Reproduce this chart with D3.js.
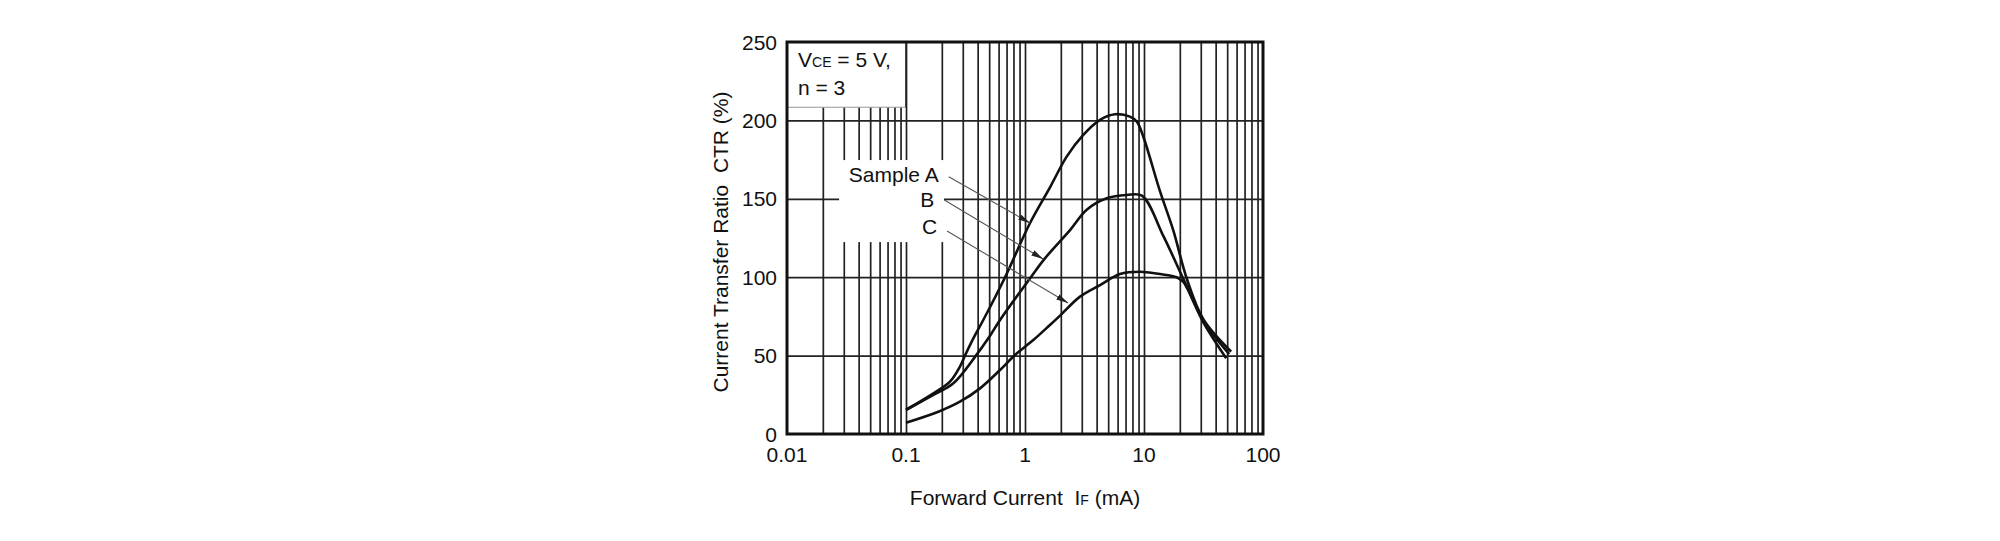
<!DOCTYPE html>
<html>
<head>
<meta charset="utf-8">
<script src="https://cdn.jsdelivr.net/npm/d3@7"></script>
<style>
body { margin: 0; background: #fff; }
text { font-family: "Liberation Sans", Arial, sans-serif; fill: #111; }
</style>
</head>
<body>
<script>
// ---------- data ----------
var xTickLabels = [0.01, 0.1, 1, 10, 100];
var yTickLabels = [0, 50, 100, 150, 200, 250];

// [IF (mA), CTR (%)]
var sampleA = [[0.1,15.5],[0.17,26],[0.234,33.4],[0.284,43],[0.313,50],[0.368,61],[0.446,72.7],
    [0.68,100],[1.10,134.4],[1.64,158],[2.24,176.9],[3.09,190.7],[4.27,200.3],[5.7,203.9],
    [7.62,202.4],[8.7,199.2],[9.87,189.6],[13.6,155],[17.6,130],[22.9,99],[31.6,73],[54,52.5]];
var sampleB = [[0.1,15.3],[0.17,25],[0.25,32.3],[0.387,50],[0.492,61],[0.617,72.7],[1.12,100],
    [1.47,112],[2.39,130],[3.3,143],[4.86,150.3],[7.16,152.4],[9.6,152],[14.6,126],[22,97],
    [31.6,72],[52,51]];
var sampleC = [[0.1,7.2],[0.187,14.2],[0.284,20.6],[0.419,29.1],[0.617,40.8],[0.824,50.4],[1.175,59.9],
    [1.62,69.5],[1.97,75.5],[2.9,87.6],[4.27,95],[6.28,102],[9.25,103.5],[13.6,102],[18.8,100],
    [21.4,97],[31.6,71],[49,48.3]];

// labels and pointer arrows: text, arrow start, arrow tip (data units)
var pointerNames = ["Sample A", "B", "C"];
var pointerStart = [[0.2286,164.1],[0.210,149.2],[0.2213,129.5]];
var pointerTip = [[1.10,134.6],[1.42,111.6],[2.30,83.5]];

//---------setup plot-----------------------//
var margin = { top: 42, left: 787 },
    width = 476,
    height = 392;

var x = d3.scaleLog()
    .domain([0.01, 100])
    .range([0, width]);

var y = d3.scaleLinear()
    .domain([0, 250])
    .range([height, 0]);

var svg = d3.select("body").append("svg")
    .attr("width", 2000)
    .attr("height", 541);

var g = svg.append("g")
    .attr("transform", "translate(" + margin.left + "," + margin.top + ")");

// vertical gridlines (1..9 per decade)
g.append("g")
    .attr("class", "grid")
    .attr("transform", "translate(0," + height + ")")
    .call(d3.axisBottom(x)
        .tickValues(x.ticks().filter(function(t) { return t > 0.01 && t < 100; }))
        .tickSize(-height)
        .tickFormat(""))
    .call(function(a) { a.select(".domain").remove(); })
    .selectAll("line")
    .attr("stroke", "#222")
    .attr("stroke-width", 1.7);

// horizontal gridlines
g.append("g")
    .attr("class", "grid")
    .call(d3.axisLeft(y)
        .tickValues(yTickLabels.filter(function(t) { return t > 0 && t < 250; }))
        .tickSize(-width)
        .tickFormat(""))
    .call(function(a) { a.select(".domain").remove(); })
    .selectAll("line")
    .attr("stroke", "#222")
    .attr("stroke-width", 1.7);

// note box top left (hides grid)
var boxBottom = y(208.4);
g.append("rect")
    .attr("x", 0).attr("y", 0)
    .attr("width", x(0.1)).attr("height", boxBottom)
    .attr("fill", "#fff");
g.append("line")
    .attr("x1", 0).attr("x2", x(0.1))
    .attr("y1", boxBottom).attr("y2", boxBottom)
    .attr("stroke", "#999").attr("stroke-width", 1.2);
g.append("line")
    .attr("x1", x(0.1)).attr("x2", x(0.1))
    .attr("y1", 0).attr("y2", boxBottom)
    .attr("stroke", "#222").attr("stroke-width", 1.7);

var note1 = g.append("text")
    .attr("x", 11).attr("y", 25)
    .style("font-size", "21px");
note1.append("tspan").text("V");
note1.append("tspan").style("font-size", "14px").text("CE");
note1.append("tspan").text(" = 5 V,");
g.append("text")
    .attr("x", 11).attr("y", 53)
    .style("font-size", "21px")
    .text("n = 3");

// white area behind sample labels
g.append("rect")
    .attr("x", x(0.0274)).attr("y", y(174.7))
    .attr("width", x(0.2085) - x(0.0274))
    .attr("height", y(122.4) - y(174.7))
    .attr("fill", "#fff");

// border
g.append("rect")
    .attr("x", 0).attr("y", 0)
    .attr("width", width).attr("height", height)
    .attr("fill", "none")
    .attr("stroke", "#111")
    .attr("stroke-width", 3);

// x tick labels
g.selectAll(".xlab")
    .data(xTickLabels)
    .enter().append("text")
    .attr("class", "xlab")
    .attr("x", function(d) { return x(d); })
    .attr("y", height + 28)
    .attr("text-anchor", "middle")
    .style("font-size", "21px")
    .text(function(d) { return d; });

// y tick labels
g.selectAll(".ylab")
    .data(yTickLabels)
    .enter().append("text")
    .attr("class", "ylab")
    .attr("x", -10)
    .attr("y", function(d) { return y(d); })
    .attr("dy", "0.36em")
    .attr("text-anchor", "end")
    .style("font-size", "21px")
    .text(function(d) { return d; });

// axis titles
var xt = g.append("text")
    .attr("x", width / 2)
    .attr("y", height + 71)
    .attr("text-anchor", "middle")
    .style("font-size", "21px")
    .style("white-space", "pre");
xt.append("tspan").text("Forward Current  I");
xt.append("tspan").style("font-size", "14px").text("F");
xt.append("tspan").text(" (mA)");

g.append("text")
    .attr("transform", "translate(-59," + (height / 2 + 4) + ") rotate(-90)")
    .attr("text-anchor", "middle")
    .style("font-size", "21px")
    .style("white-space", "pre")
    .text("Current Transfer Ratio  CTR (%)");

//-------------curves----------//
var line = d3.line()
    .curve(d3.curveCatmullRom.alpha(0.5))
    .x(function(d) { return x(d[0]); })
    .y(function(d) { return y(d[1]); });

g.selectAll(".ctr")
    .data([sampleA, sampleB, sampleC])
    .enter().append("path")
    .attr("class", "ctr")
    .attr("d", line)
    .attr("fill", "none")
    .attr("stroke", "#111")
    .attr("stroke-width", 2.6)
    .attr("stroke-linejoin", "round");

// arrow marker
svg.append("defs").append("marker")
    .attr("id", "arrow")
    .attr("markerUnits", "userSpaceOnUse")
    .attr("markerWidth", 12).attr("markerHeight", 6)
    .attr("refX", 12).attr("refY", 3)
    .attr("orient", "auto")
    .append("path")
    .attr("d", "M0,0 L12,3 L0,6 Z")
    .attr("fill", "#222");

g.selectAll(".pointer")
    .data(pointerNames)
    .enter().append("line")
    .attr("class", "pointer")
    .attr("x1", function(d, i) { return x(pointerStart[i][0]); })
    .attr("y1", function(d, i) { return y(pointerStart[i][1]); })
    .attr("x2", function(d, i) { return x(pointerTip[i][0]); })
    .attr("y2", function(d, i) { return y(pointerTip[i][1]); })
    .attr("stroke", "#555")
    .attr("stroke-width", 1.1)
    .attr("marker-end", "url(#arrow)");

g.selectAll(".plabel")
    .data(pointerNames)
    .enter().append("text")
    .attr("class", "plabel")
    .attr("x", function(d, i) { return x(pointerStart[i][0]) - 10; })
    .attr("y", function(d, i) { return y(pointerStart[i][1]) + [5, 7, 3][i]; })
    .attr("text-anchor", "end")
    .style("font-size", "21px")
    .text(function(d) { return d; });
</script>
</body>
</html>
